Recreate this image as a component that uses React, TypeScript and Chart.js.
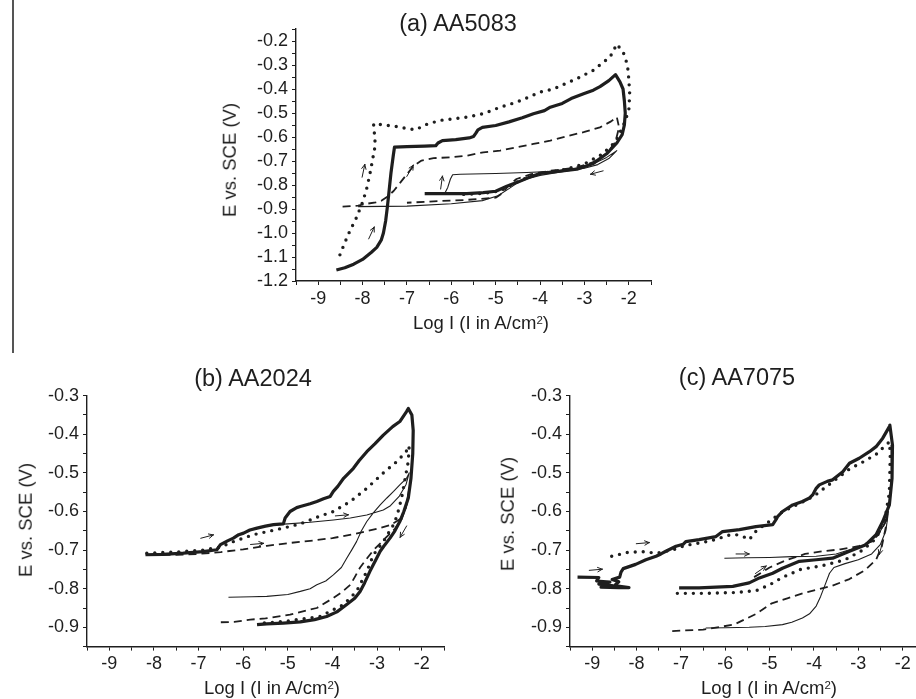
import React, { useEffect, useRef } from 'react';
import { Chart, registerables } from 'chart.js';

Chart.register(...registerables);

const FONT = "'Liberation Sans', Arial, Helvetica, sans-serif";
const INK = '#1e1e1e';

type Pt = [number, number];

// ---------- tick labels ----------
const xMajorTicks = [-9, -8, -7, -6, -5, -4, -3, -2];
const aYMajorTicks = [-1.2, -1.1, -1.0, -0.9, -0.8, -0.7, -0.6, -0.5, -0.4, -0.3, -0.2];
const bcYMajorTicks = [-0.9, -0.8, -0.7, -0.6, -0.5, -0.4, -0.3];

// ---------- (a) AA5083 ----------
const aThick: Pt[] = [
  [-8.59, -1.154], [-8.4, -1.145], [-8.2, -1.13], [-8.0, -1.11], [-7.8, -1.08], [-7.68, -1.06],
  [-7.58, -1.03], [-7.53, -1.0], [-7.48, -0.95], [-7.44, -0.89], [-7.4, -0.82], [-7.36, -0.75],
  [-7.31, -0.68], [-7.28, -0.642], [-7.0, -0.64], [-6.6, -0.638], [-6.35, -0.636], [-6.3, -0.625],
  [-6.2, -0.615], [-5.9, -0.611], [-5.6, -0.604], [-5.5, -0.598], [-5.45, -0.585], [-5.4, -0.57],
  [-5.3, -0.56], [-5.0, -0.552], [-4.7, -0.537], [-4.4, -0.52], [-4.15, -0.503], [-3.9, -0.49],
  [-3.77, -0.476], [-3.5, -0.46], [-3.3, -0.44], [-3.02, -0.42], [-2.8, -0.405], [-2.65, -0.39],
  [-2.45, -0.365], [-2.3, -0.34], [-2.2, -0.37], [-2.13, -0.4], [-2.1, -0.45], [-2.08, -0.5],
  [-2.1, -0.55], [-2.15, -0.59], [-2.27, -0.625], [-2.5, -0.67], [-2.8, -0.71], [-3.17, -0.734],
  [-3.55, -0.742], [-4.0, -0.752], [-4.2, -0.765], [-4.5, -0.788], [-4.75, -0.805], [-5.0, -0.826],
  [-5.28, -0.832], [-5.65, -0.836], [-6.2, -0.836], [-6.6, -0.836],
];
const aDot: Pt[] = [
  [-8.51, -1.091], [-8.4, -1.04], [-8.29, -0.993], [-8.14, -0.937], [-7.99, -0.867], [-7.9, -0.81],
  [-7.83, -0.75], [-7.77, -0.69], [-7.72, -0.64], [-7.72, -0.6], [-7.75, -0.565], [-7.75, -0.545],
  [-7.5, -0.55], [-7.25, -0.556], [-7.0, -0.565], [-6.8, -0.57], [-6.6, -0.55], [-6.26, -0.531],
  [-5.95, -0.524], [-5.65, -0.517], [-5.28, -0.503], [-4.9, -0.476], [-4.53, -0.455], [-4.26, -0.434],
  [-4.0, -0.413], [-3.7, -0.4], [-3.17, -0.357], [-2.8, -0.322], [-2.42, -0.266], [-2.27, -0.213],
  [-2.12, -0.25], [-2.03, -0.3], [-2.0, -0.36], [-1.98, -0.42], [-2.0, -0.49], [-2.12, -0.55],
  [-2.3, -0.62], [-2.6, -0.672], [-3.0, -0.712], [-3.5, -0.738], [-4.0, -0.752], [-4.3, -0.77],
  [-4.55, -0.79], [-4.9, -0.825], [-5.3, -0.835], [-5.8, -0.84],
];
const aDash: Pt[] = [
  [-8.45, -0.89], [-8.1, -0.886], [-7.9, -0.878], [-7.7, -0.872], [-7.57, -0.865], [-7.45, -0.85],
  [-7.3, -0.825], [-7.15, -0.79], [-7.0, -0.755], [-6.85, -0.72], [-6.67, -0.698], [-6.4, -0.688],
  [-6.03, -0.685], [-5.65, -0.678], [-5.28, -0.664], [-4.9, -0.657], [-4.53, -0.643], [-4.15, -0.629],
  [-3.77, -0.615], [-3.4, -0.597], [-3.02, -0.58], [-2.65, -0.56], [-2.4, -0.535], [-2.27, -0.517],
  [-2.22, -0.56], [-2.3, -0.62], [-2.5, -0.67], [-2.8, -0.705], [-3.2, -0.728], [-3.77, -0.741],
  [-4.2, -0.755], [-4.53, -0.775], [-4.7, -0.8], [-4.85, -0.835], [-5.0, -0.853], [-5.65, -0.862],
  [-6.4, -0.868], [-7.0, -0.874],
];
const aThin: Pt[] = [
  [-6.15, -0.835], [-6.08, -0.81], [-6.02, -0.775], [-5.97, -0.757], [-5.8, -0.755], [-5.0, -0.752],
  [-4.3, -0.748], [-3.6, -0.742], [-3.1, -0.728], [-2.8, -0.712], [-2.5, -0.685], [-2.27, -0.657],
  [-2.45, -0.69], [-2.7, -0.715], [-3.0, -0.73], [-3.5, -0.745], [-4.0, -0.76], [-4.3, -0.775],
  [-4.5, -0.79], [-4.7, -0.815], [-4.95, -0.845], [-5.3, -0.865], [-6.0, -0.878], [-7.0, -0.888],
  [-8.1, -0.89],
];
const aArrowX = [-7.98, -6.93, -6.22, -7.8, -2.72];
const aArrowY = [-0.741, -0.741, -0.79, -1.0, -0.748];
const aArrowDir = [78, 60, 82, 65, 195];

// ---------- (b) AA2024 ----------
const bThick: Pt[] = [
  [-8.19, -0.712], [-7.8, -0.711], [-7.34, -0.708], [-6.9, -0.704], [-6.59, -0.699], [-6.51, -0.686],
  [-6.35, -0.676], [-6.22, -0.669], [-6.1, -0.66], [-5.99, -0.656], [-5.85, -0.648], [-5.69, -0.643],
  [-5.5, -0.638], [-5.32, -0.634], [-5.1, -0.632], [-5.06, -0.617], [-4.95, -0.6], [-4.8, -0.59],
  [-4.72, -0.587], [-4.5, -0.58], [-4.35, -0.574], [-4.2, -0.567], [-4.05, -0.561], [-3.98, -0.548],
  [-3.88, -0.535], [-3.75, -0.514], [-3.53, -0.488], [-3.4, -0.468], [-3.23, -0.445], [-3.05, -0.425],
  [-2.86, -0.402], [-2.65, -0.38], [-2.49, -0.367], [-2.34, -0.341], [-2.3, -0.333], [-2.22, -0.35],
  [-2.19, -0.39], [-2.2, -0.45], [-2.24, -0.514], [-2.3, -0.565], [-2.4, -0.6], [-2.49, -0.626],
  [-2.6, -0.65], [-2.71, -0.669], [-2.85, -0.69], [-2.93, -0.703], [-3.05, -0.73], [-3.16, -0.755],
  [-3.28, -0.785], [-3.38, -0.807], [-3.5, -0.825], [-3.68, -0.841], [-3.9, -0.86], [-4.13, -0.872],
  [-4.4, -0.88], [-4.72, -0.886], [-5.1, -0.889], [-5.47, -0.891], [-5.69, -0.893],
];
const bDot: Pt[] = [
  [-8.16, -0.708], [-7.5, -0.705], [-6.9, -0.7], [-6.5, -0.692], [-6.22, -0.678], [-5.77, -0.66],
  [-5.3, -0.648], [-5.1, -0.643], [-4.72, -0.632], [-4.35, -0.615], [-3.98, -0.6], [-3.6, -0.574],
  [-3.23, -0.54], [-2.86, -0.5], [-2.55, -0.47], [-2.35, -0.445], [-2.28, -0.43], [-2.3, -0.47],
  [-2.37, -0.514], [-2.45, -0.565], [-2.55, -0.61], [-2.63, -0.634], [-2.86, -0.678], [-3.08, -0.712],
  [-3.23, -0.755], [-3.46, -0.807], [-3.75, -0.841], [-4.28, -0.872], [-5.02, -0.884], [-5.54, -0.889],
];
const bDash: Pt[] = [
  [-8.1, -0.713], [-7.5, -0.712], [-7.0, -0.71], [-6.5, -0.705], [-6.0, -0.698], [-5.47, -0.689],
  [-5.0, -0.682], [-4.5, -0.676], [-4.0, -0.669], [-3.5, -0.658], [-3.0, -0.645], [-2.7, -0.635],
  [-2.49, -0.62], [-2.35, -0.59], [-2.28, -0.54], [-2.33, -0.58], [-2.45, -0.62], [-2.6, -0.645],
  [-2.78, -0.665], [-2.95, -0.685], [-3.08, -0.7], [-3.25, -0.725], [-3.38, -0.745], [-3.5, -0.77],
  [-3.6, -0.79], [-3.8, -0.81], [-3.98, -0.824], [-4.35, -0.85], [-4.95, -0.867], [-5.5, -0.877],
  [-5.84, -0.88], [-6.2, -0.886], [-6.51, -0.887],
];
const bThin: Pt[] = [
  [-6.33, -0.822], [-5.8, -0.821], [-5.47, -0.82], [-5.0, -0.815], [-4.72, -0.807], [-4.5, -0.8],
  [-4.35, -0.79], [-4.15, -0.78], [-3.98, -0.764], [-3.8, -0.745], [-3.68, -0.721], [-3.57, -0.7],
  [-3.46, -0.678], [-3.35, -0.65], [-3.23, -0.626], [-3.08, -0.603], [-2.93, -0.583], [-2.78, -0.565],
  [-2.63, -0.548], [-2.48, -0.53], [-2.34, -0.514], [-2.28, -0.5], [-2.35, -0.53], [-2.5, -0.56],
  [-2.7, -0.585], [-2.86, -0.596], [-3.23, -0.609], [-3.6, -0.617], [-3.98, -0.622], [-4.5, -0.628],
  [-5.0, -0.632], [-5.3, -0.634],
];
const bArrowX = [-6.81, -5.69, -3.79, -2.41];
const bArrowY = [-0.665, -0.684, -0.61, -0.652];
const bArrowDir = [15, 5, 5, 240];

// ---------- (c) AA7075 ----------
const cThick: Pt[] = [
  [-9.33, -0.77], [-8.85, -0.771], [-8.9, -0.78], [-8.6, -0.783], [-8.85, -0.788], [-8.55, -0.792],
  [-8.8, -0.796], [-8.4, -0.797], [-8.17, -0.797], [-8.5, -0.792], [-8.4, -0.782], [-8.55, -0.776],
  [-8.38, -0.77], [-8.35, -0.757], [-8.3, -0.748], [-8.02, -0.737], [-7.79, -0.725], [-7.56, -0.716],
  [-7.45, -0.71], [-7.34, -0.703], [-7.11, -0.69], [-6.95, -0.685], [-6.89, -0.678], [-6.59, -0.673],
  [-6.21, -0.665], [-6.06, -0.652], [-5.68, -0.647], [-5.31, -0.639], [-4.93, -0.634], [-4.85, -0.62],
  [-4.82, -0.613], [-4.71, -0.6], [-4.48, -0.583], [-4.26, -0.574], [-4.1, -0.565], [-4.03, -0.557],
  [-3.95, -0.54], [-3.88, -0.531], [-3.7, -0.522], [-3.58, -0.518], [-3.35, -0.497], [-3.2, -0.475],
  [-2.98, -0.462], [-2.75, -0.445], [-2.6, -0.432], [-2.45, -0.41], [-2.3, -0.38], [-2.29, -0.376],
  [-2.23, -0.428], [-2.24, -0.514], [-2.3, -0.583], [-2.45, -0.626], [-2.6, -0.66], [-2.83, -0.686],
  [-3.2, -0.703], [-3.58, -0.721], [-3.95, -0.725], [-4.33, -0.729], [-4.71, -0.747], [-4.93, -0.76],
  [-5.23, -0.772], [-5.46, -0.785], [-5.83, -0.794], [-6.59, -0.798], [-7.04, -0.798],
];
const cDot: Pt[] = [
  [-8.56, -0.716], [-8.2, -0.706], [-7.86, -0.704], [-7.55, -0.708], [-7.2, -0.7], [-6.9, -0.688],
  [-6.5, -0.68], [-6.2, -0.672], [-5.95, -0.662], [-5.76, -0.66], [-5.61, -0.664], [-5.46, -0.673],
  [-5.3, -0.65], [-5.0, -0.625], [-4.7, -0.6], [-4.3, -0.578], [-4.0, -0.56], [-3.6, -0.525],
  [-3.2, -0.49], [-2.9, -0.472], [-2.6, -0.452], [-2.4, -0.43], [-2.3, -0.42], [-2.28, -0.45],
  [-2.3, -0.55], [-2.4, -0.62], [-2.6, -0.67], [-2.9, -0.7], [-3.3, -0.725], [-3.8, -0.74],
  [-4.3, -0.75], [-4.7, -0.77], [-5.0, -0.79], [-5.3, -0.805], [-5.8, -0.81], [-6.5, -0.812],
  [-7.15, -0.812],
];
const cDash: Pt[] = [
  [-5.35, -0.77], [-5.0, -0.745], [-4.6, -0.725], [-4.2, -0.71], [-3.8, -0.703], [-3.4, -0.698],
  [-3.0, -0.69], [-2.7, -0.678], [-2.55, -0.66], [-2.4, -0.63], [-2.33, -0.59], [-2.38, -0.64],
  [-2.47, -0.69], [-2.6, -0.725], [-2.85, -0.752], [-3.2, -0.775], [-3.6, -0.793], [-4.2, -0.81],
  [-4.6, -0.825], [-4.95, -0.838], [-5.3, -0.865], [-5.8, -0.893], [-6.5, -0.906], [-7.25, -0.91],
];
const cThin: Pt[] = [
  [-6.02, -0.721], [-5.5, -0.72], [-5.0, -0.719], [-4.5, -0.717], [-3.95, -0.716], [-3.5, -0.71],
  [-3.2, -0.699], [-2.9, -0.688], [-2.75, -0.678], [-2.55, -0.66], [-2.4, -0.63], [-2.32, -0.6],
  [-2.38, -0.65], [-2.5, -0.685], [-2.7, -0.71], [-3.0, -0.725], [-3.3, -0.735], [-3.55, -0.745],
  [-3.65, -0.76], [-3.75, -0.79], [-3.85, -0.82], [-3.95, -0.845], [-4.1, -0.865], [-4.26, -0.876],
  [-4.5, -0.887], [-4.71, -0.893], [-5.1, -0.898], [-5.46, -0.9], [-6.0, -0.901], [-6.44, -0.902],
];
const cArrowX = [-8.92, -7.86, -5.61, -5.2, -2.49];
const cArrowY = [-0.751, -0.682, -0.71, -0.751, -0.695];
const cArrowDir = [5, 5, 0, 35, 255];

// ---------- styles ----------
type Kind = 'thick' | 'dot' | 'dash' | 'thin';
const STYLES: Record<Kind, any> = {
  thick: { borderWidth: 3.2, borderDash: [] },
  dot: { borderWidth: 3.4, borderDash: [0, 8], borderCapStyle: 'round' },
  dash: { borderWidth: 1.8, borderDash: [8, 5] },
  thin: { borderWidth: 1.1, borderDash: [] },
};

const arrowPlugin = {
  id: 'arrowMarks',
  afterDatasetsDraw(chart: any, _args: any, opts: any) {
    const { ctx } = chart;
    const xs: number[] = opts.x || [];
    const ys: number[] = opts.y || [];
    const dirs: number[] = opts.dir || [];
    const sx = chart.scales.x;
    const sy = chart.scales.y;
    ctx.save();
    ctx.strokeStyle = INK;
    ctx.lineWidth = 1;
    ctx.lineCap = 'round';
    for (let i = 0; i < xs.length; i++) {
      const cx = sx.getPixelForValue(xs[i]);
      const cy = sy.getPixelForValue(ys[i]);
      const a = (dirs[i] * Math.PI) / 180;
      const dx = Math.cos(a);
      const dy = -Math.sin(a);
      const L = 13;
      const tx = cx + (dx * L) / 2;
      const ty = cy + (dy * L) / 2;
      ctx.beginPath();
      ctx.moveTo(cx - (dx * L) / 2, cy - (dy * L) / 2);
      ctx.lineTo(tx, ty);
      for (const s of [0.45, -0.45]) {
        const ha = a + Math.PI + s;
        ctx.moveTo(tx, ty);
        ctx.lineTo(tx + Math.cos(ha) * 5, ty - Math.sin(ha) * 5);
      }
      ctx.stroke();
    }
    ctx.restore();
  },
};

type PanelSpec = {
  left: number; top: number; width: number; height: number;
  area: { left: number; top: number; right: number; bottom: number };
  xMin: number; xMax: number; yMin: number; yMax: number;
  yMajor: number[];
  series: { kind: Kind; pts: Pt[] }[];
  arrowX: number[]; arrowY: number[]; arrowDir: number[];
};

function makeConfig(p: PanelSpec): any {
  const datasets = p.series.map((s) => ({
    data: s.pts.map(([x, y]) => ({ x, y })),
    showLine: true,
    pointRadius: 0,
    borderColor: INK,
    backgroundColor: INK,
    fill: false,
    tension: 0,
    borderJoinStyle: 'round',
    ...STYLES[s.kind],
  }));
  const tickFont = { family: FONT, size: 18 };
  return {
    type: 'scatter',
    data: { datasets },
    options: {
      animation: false,
      responsive: false,
      maintainAspectRatio: false,
      events: [],
      layout: { padding: { left: 0, top: p.area.top, right: p.width - p.area.right, bottom: 0 } },
      plugins: {
        legend: { display: false },
        tooltip: { enabled: false },
        arrowMarks: { x: p.arrowX, y: p.arrowY, dir: p.arrowDir },
      },
      scales: {
        x: {
          type: 'linear',
          position: 'bottom',
          min: p.xMin,
          max: p.xMax,
          afterFit: (s: any) => { s.height = p.height - p.area.bottom; },
          ticks: {
            stepSize: 0.5,
            autoSkip: false,
            maxRotation: 0,
            includeBounds: false,
            padding: 3,
            color: INK,
            font: tickFont,
            callback: (v: any) => {
              const n = Number(v);
              const m = xMajorTicks.find((t) => Math.abs(t - n) < 1e-6);
              return m === undefined ? '' : String(m);
            },
          },
          grid: { display: true, drawOnChartArea: false, drawTicks: true, tickLength: 4, color: INK, tickWidth: 1 },
          border: { display: true, color: INK, width: 1.4 },
          title: { display: false },
        },
        y: {
          type: 'linear',
          position: 'left',
          min: p.yMin,
          max: p.yMax,
          afterFit: (s: any) => { s.width = p.area.left; },
          ticks: {
            stepSize: 0.05,
            autoSkip: false,
            includeBounds: false,
            padding: 4,
            color: INK,
            font: tickFont,
            callback: (v: any) => {
              const n = Number(v);
              const m = p.yMajor.find((t) => Math.abs(t - n) < 1e-6);
              return m === undefined ? '' : m.toFixed(1);
            },
          },
          grid: { display: true, drawOnChartArea: false, drawTicks: true, tickLength: 4, color: INK, tickWidth: 1 },
          border: { display: true, color: INK, width: 1.4 },
          title: { display: false },
        },
      },
    },
    plugins: [arrowPlugin],
  };
}

function Panel({ spec }: { spec: PanelSpec }) {
  const ref = useRef<HTMLCanvasElement | null>(null);
  useEffect(() => {
    if (!ref.current) return;
    const chart = new Chart(ref.current, makeConfig(spec));
    return () => chart.destroy();
  }, [spec]);
  return (
    <div style={{ position: 'absolute', left: spec.left, top: spec.top, width: spec.width, height: spec.height, overflow: 'hidden' }}>
      <canvas ref={ref} width={spec.width} height={spec.height} style={{ display: 'block', width: spec.width, height: spec.height }} />
    </div>
  );
}

const panelA: PanelSpec = {
  left: 200, top: 0, width: 470, height: 345,
  area: { left: 96, top: 29, right: 451, bottom: 281 },
  xMin: -9.5, xMax: -1.5, yMin: -1.2, yMax: -0.15, yMajor: aYMajorTicks,
  series: [
    { kind: 'thin', pts: aThin }, { kind: 'dash', pts: aDash },
    { kind: 'dot', pts: aDot }, { kind: 'thick', pts: aThick },
  ],
  arrowX: aArrowX, arrowY: aArrowY, arrowDir: aArrowDir,
};
const panelB: PanelSpec = {
  left: 0, top: 360, width: 460, height: 339,
  area: { left: 87, top: 35.7, right: 444, bottom: 286.6 },
  xMin: -9.5, xMax: -1.5, yMin: -0.95, yMax: -0.3, yMajor: bcYMajorTicks,
  series: [
    { kind: 'thin', pts: bThin }, { kind: 'dash', pts: bDash },
    { kind: 'dot', pts: bDot }, { kind: 'thick', pts: bThick },
  ],
  arrowX: bArrowX, arrowY: bArrowY, arrowDir: bArrowDir,
};
const panelC: PanelSpec = {
  left: 470, top: 360, width: 446, height: 339,
  area: { left: 100, top: 35.7, right: 446, bottom: 286.6 },
  xMin: -9.5, xMax: -1.7, yMin: -0.95, yMax: -0.3, yMajor: bcYMajorTicks,
  series: [
    { kind: 'thin', pts: cThin }, { kind: 'dash', pts: cDash },
    { kind: 'dot', pts: cDot }, { kind: 'thick', pts: cThick },
  ],
  arrowX: cArrowX, arrowY: cArrowY, arrowDir: cArrowDir,
};

const textBase: React.CSSProperties = {
  position: 'absolute',
  fontFamily: FONT,
  color: INK,
  whiteSpace: 'nowrap',
  lineHeight: 1,
};

function Title({ x, y, text }: { x: number; y: number; text: string }) {
  return <div style={{ ...textBase, left: x, top: y, fontSize: 23.5, transform: 'translate(-50%, -50%)' }}>{text}</div>;
}
function XTitle({ x, y }: { x: number; y: number }) {
  return (
    <div style={{ ...textBase, left: x, top: y, fontSize: 18.5, transform: 'translate(-50%, -50%)' }}>
      Log I (I in A/cm<span style={{ position: 'relative', top: '-0.45em', fontSize: '0.62em' }}>2</span>)
    </div>
  );
}
function YTitle({ x, y }: { x: number; y: number }) {
  return (
    <div style={{ ...textBase, left: x, top: y, fontSize: 18.5, transform: 'translate(-50%, -50%) rotate(-90deg)' }}>
      E vs. SCE (V)
    </div>
  );
}

export default function App() {
  return (
    <>
      <div style={{ position: 'absolute', left: 12, top: 0, width: 1.5, height: 353, background: '#555' }} />
      <Panel spec={panelA} />
      <Panel spec={panelB} />
      <Panel spec={panelC} />
      <Title x={458} y={24} text="(a) AA5083" />
      <Title x={253} y={379} text="(b) AA2024" />
      <Title x={737} y={378} text="(c) AA7075" />
      <YTitle x={230} y={160} />
      <YTitle x={26} y={520} />
      <YTitle x={508} y={514} />
      <XTitle x={481} y={323} />
      <XTitle x={272} y={688} />
      <XTitle x={769} y={688} />
    </>
  );
}
